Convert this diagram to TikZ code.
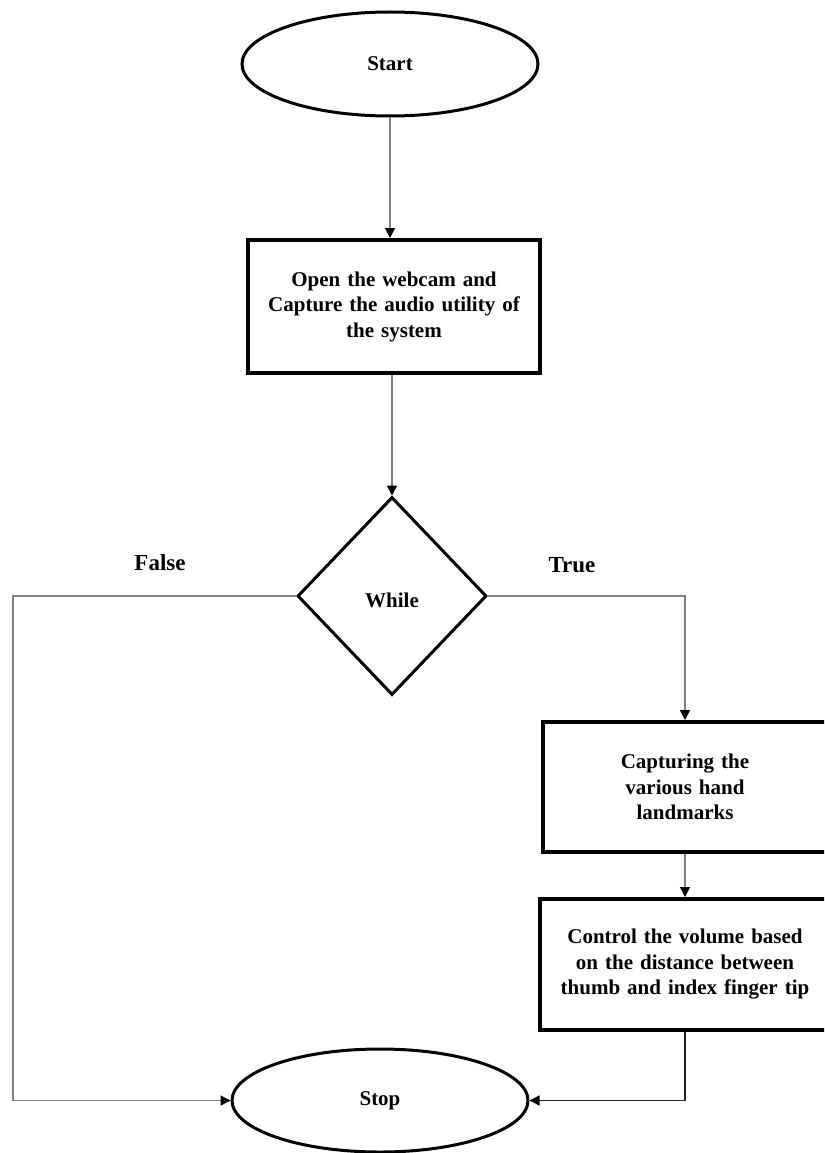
\documentclass[tikz,border=0pt]{standalone}
\usepackage{fontspec}
\setmainfont{Liberation Serif}
\usetikzlibrary{shapes.geometric,arrows.meta}
\begin{document}
\begin{tikzpicture}[x=1pt,y=-1pt,
  every node/.style={font=\bfseries\fontsize{21}{25.5}\selectfont},
  term/.style={ellipse,draw,line width=3pt,inner sep=0pt,minimum width=296pt,minimum height=104pt},
  procbox/.style={rectangle,draw,line width=4pt,inner sep=0pt,align=center},
  decide/.style={diamond,draw,line width=3pt,inner sep=0pt,minimum width=189pt,minimum height=198pt},
  conn/.style={draw=black!50,line width=1.4pt,-{Triangle[black,width=10pt,length=10pt]}},
  lbl/.style={font=\bfseries\fontsize{23}{27}\selectfont}
]
\useasboundingbox (0,0) rectangle (824,1153);
\clip (0,0) rectangle (824,1153);
\node[term] (start) at (390,64) {Start};
\node[procbox,minimum width=292pt,minimum height=133pt,text width=285pt] (open) at (394,306.5)
  {Open the webcam and\\Capture the audio utility of\\the system};
\node[decide] (while) at (392,596) {};
\node at (392,600) (whiletxt) {While};
\node[procbox,minimum width=284pt,minimum height=130pt,text width=270pt] (capt) at (685,787)
  {Capturing the\\various hand\\landmarks};
\node[procbox,minimum width=290pt,minimum height=131pt,text width=280pt] (ctrl) at (685,964.5)
  {Control the volume based\\on the distance between\\thumb and index finger tip};
\node[term,minimum height=103pt] (stop) at (380,1100.5) {Stop};
\node[lbl] (false) at (160,563) {False};
\node[lbl] (true) at (572,565) {True};
\coordinate (fl) at (13,596);
\draw[conn] (start.south) -- (start.south |- open.north);
\draw[conn] (while.north |- open.south) -- (while.north);
\draw[conn] (while.east) -| (capt.north);
\draw[conn] (capt) -- (ctrl);
\draw[conn] (while.west) -- (fl) |- (stop.west);
\draw[conn,draw=black!85] (ctrl.south) |- (stop.east);
\end{tikzpicture}
\end{document}
